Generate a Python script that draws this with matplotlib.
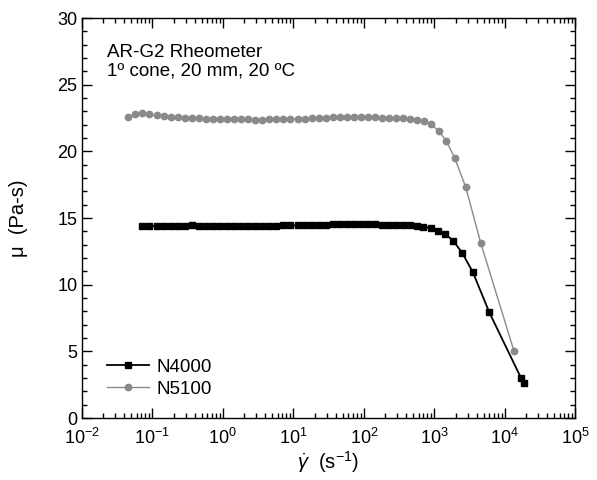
import matplotlib
matplotlib.use("Agg")
import matplotlib.pyplot as plt
from matplotlib.ticker import LogLocator, MultipleLocator, NullFormatter, FixedLocator

plt.rcParams['font.family'] = ['Liberation Sans', 'DejaVu Sans']
plt.rcParams['mathtext.fontset'] = 'custom'
plt.rcParams['mathtext.rm'] = 'Liberation Sans'
plt.rcParams['mathtext.it'] = 'Liberation Sans:italic'

# shear rate (1/s) and viscosity (Pa-s)
rate_n4000 = [0.0724, 0.0912, 0.115, 0.145, 0.182, 0.229, 0.288, 0.363, 0.457, 0.575,
              0.724, 0.912, 1.15, 1.45, 1.82, 2.29, 2.88, 3.63, 4.57, 5.75,
              7.24, 9.12, 11.5, 14.5, 18.2, 22.9, 28.8, 36.3, 45.7, 57.5,
              72.4, 91.2, 115, 145, 182, 229, 288, 363, 457, 575,
              700, 891, 1122, 1436, 1849, 2479, 3514, 6030, 16860, 18620]
mu_n4000 = [14.4, 14.4, 14.4, 14.4, 14.4, 14.4, 14.42, 14.5, 14.42, 14.42,
            14.42, 14.42, 14.42, 14.42, 14.43, 14.43, 14.43, 14.43, 14.44, 14.44,
            14.45, 14.45, 14.45, 14.46, 14.47, 14.48, 14.5, 14.52, 14.52, 14.53,
            14.53, 14.53, 14.52, 14.52, 14.5, 14.5, 14.48, 14.47, 14.45, 14.4,
            14.35, 14.23, 14.05, 13.8, 13.3, 12.4, 10.95, 7.92, 3.04, 2.6]

rate_n5100 = [0.0457, 0.0575, 0.0724, 0.0912, 0.115, 0.145, 0.182, 0.229, 0.288, 0.363,
              0.457, 0.575, 0.724, 0.912, 1.15, 1.45, 1.82, 2.29, 2.88, 3.63,
              4.57, 5.75, 7.24, 9.12, 11.5, 14.5, 18.2, 22.9, 28.8, 36.3,
              45.7, 57.5, 72.4, 91.2, 115, 145, 182, 229, 288, 363,
              447, 562, 708, 891, 1148, 1479, 1950, 2786, 4571, 13490]
mu_n5100 = [22.55, 22.8, 22.85, 22.8, 22.7, 22.65, 22.6, 22.55, 22.52, 22.5,
            22.47, 22.45, 22.43, 22.42, 22.42, 22.4, 22.4, 22.4, 22.38, 22.38,
            22.4, 22.4, 22.4, 22.42, 22.45, 22.45, 22.48, 22.5, 22.52, 22.55,
            22.55, 22.55, 22.55, 22.55, 22.55, 22.55, 22.53, 22.52, 22.5, 22.48,
            22.43, 22.36, 22.24, 22.03, 21.55, 20.78, 19.5, 17.33, 13.1, 5.03]

x_ticks = [1e-2, 1e-1, 1e0, 1e1, 1e2, 1e3, 1e4, 1e5]

fig = plt.figure(figsize=(5.97, 4.8), dpi=100)
ax = fig.add_axes([0.137, 0.129, 0.8267, 0.8335])

ax.plot(rate_n4000, mu_n4000, '-s', color='black', lw=1.3, ms=4.2, label='N4000')
ax.plot(rate_n5100, mu_n5100, '-o', color='#8a8a8a', lw=1.0, ms=4.6, label='N5100')

ax.set_xscale('log')
ax.set_xlim(1e-2, 1e5)
ax.set_ylim(0, 30)
ax.xaxis.set_major_locator(FixedLocator(x_ticks))
ax.xaxis.set_minor_locator(LogLocator(base=10, subs=range(2, 10), numticks=20))
ax.xaxis.set_minor_formatter(NullFormatter())
ax.yaxis.set_major_locator(MultipleLocator(5))
ax.yaxis.set_minor_locator(MultipleLocator(1))

ax.tick_params(which='both', direction='in', top=True, right=True, width=1.0, labelsize=13)
ax.tick_params(which='major', length=7)
ax.tick_params(which='minor', length=3.5)
ax.tick_params(axis='y', which='major', pad=3)
ax.tick_params(axis='x', which='major', pad=7)
for s in ax.spines.values():
    s.set_linewidth(1.0)

ax.set_ylabel('μ  (Pa-s)', fontsize=14.5)
ax.yaxis.set_label_coords(-0.108, 0.5)
ax.set_xlabel(r'$\dot{\gamma}$  (s$^{-1}$)', fontsize=14.5, labelpad=1)

ax.text(0.051, 0.935, 'AR-G2 Rheometer\n1º cone, 20 mm, 20 ºC', transform=ax.transAxes,
        fontsize=13.5, va='top', ha='left', linespacing=1.12)

ax.legend(loc='lower left', bbox_to_anchor=(0.025, 0.018), frameon=False, fontsize=13.5,
          handlelength=2.2, handletextpad=0.4, labelspacing=0.25, borderpad=0.2)

fig.savefig('out.png', dpi=100)
